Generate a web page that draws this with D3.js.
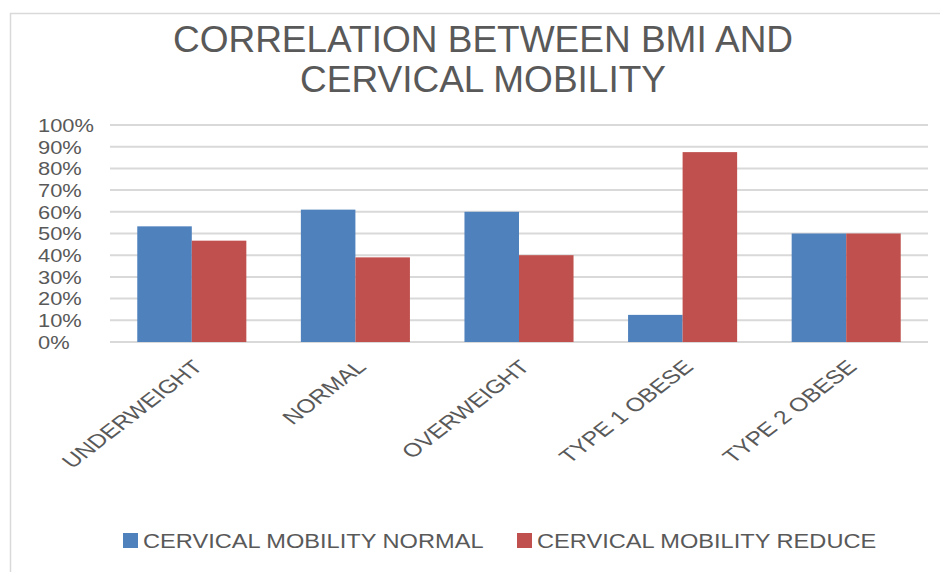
<!DOCTYPE html>
<html>
<head>
<meta charset="utf-8">
<script src="https://cdn.jsdelivr.net/npm/d3@7/dist/d3.min.js"></script>
<style>
  html, body { margin: 0; padding: 0; background: #fff; }
  svg { display: block; font-family: "Liberation Sans", Arial, sans-serif; }
</style>
</head>
<body>
<svg id="chart" width="940" height="572"></svg>
<script>
// BMI groups and the share of subjects in each cervical mobility group
const categories = ["UNDERWEIGHT", "NORMAL", "OVERWEIGHT", "TYPE 1 OBESE", "TYPE 2 OBESE"];
const seriesNames = ["CERVICAL MOBILITY NORMAL", "CERVICAL MOBILITY REDUCE"];
const mobilityNormal = [0.533, 0.61, 0.60, 0.125, 0.50];
const mobilityReduce = [0.467, 0.39, 0.40, 0.875, 0.50];
const yTicks = [0, 0.1, 0.2, 0.3, 0.4, 0.5, 0.6, 0.7, 0.8, 0.9, 1.0];
const titleLines = ["CORRELATION BETWEEN BMI AND", "CERVICAL MOBILITY"];
const colors = ["#4F81BD", "#C0504D"];

const series = [mobilityNormal, mobilityReduce];
const svg = d3.select("#chart");
const textColor = "#595959";

// widen glyphs of a text selection by a factor (wide axis/legend lettering)
function widen(sel, k) {
  sel.each(function () {
    const w = this.getComputedTextLength();
    d3.select(this).attr("textLength", w * k).attr("lengthAdjust", "spacingAndGlyphs");
  });
}

// chart area frame
svg.append("rect")
  .attr("x", 10.5).attr("y", 13.5)
  .attr("width", 960).attr("height", 600)
  .attr("fill", "none").attr("stroke", "#d9d9d9").attr("stroke-width", 1.5);

// title
svg.append("text")
  .attr("x", 483).attr("y", 52)
  .attr("text-anchor", "middle")
  .attr("fill", textColor)
  .attr("font-size", 37)
  .selectAll("tspan").data(titleLines).join("tspan")
  .attr("x", 483)
  .attr("dy", (d, i) => i === 0 ? 0 : 40)
  .text(d => d);

const plot = { left: 110, right: 928, top: 125, bottom: 342 };

const x = d3.scaleBand()
  .domain(categories)
  .range([plot.left, plot.right])
  .paddingInner(1 / 3)
  .paddingOuter(1 / 6);

const xSub = d3.scaleBand()
  .domain(d3.range(series.length))
  .range([0, x.bandwidth()]);

const y = d3.scaleLinear().domain([0, 1]).range([plot.bottom, plot.top]);

// horizontal gridlines
svg.append("g")
  .selectAll("line").data(yTicks).join("line")
  .attr("x1", plot.left).attr("x2", plot.right)
  .attr("y1", d => y(d)).attr("y2", d => y(d))
  .attr("stroke", "#d9d9d9").attr("stroke-width", 2);

// y tick labels (left aligned)
svg.append("g")
  .selectAll("text").data(yTicks).join("text")
  .attr("x", 38)
  .attr("y", d => y(d))
  .attr("dy", "0.36em")
  .attr("fill", textColor)
  .attr("font-size", 19)
  .text(d => d3.format(".0%")(d))
  .call(widen, 1.15);

// bars
const groups = svg.append("g")
  .selectAll("g").data(categories).join("g")
  .attr("transform", d => `translate(${x(d)},0)`);

groups.selectAll("rect")
  .data((d, i) => series.map((s, k) => ({ k, v: s[i] })))
  .join("rect")
  .attr("x", d => xSub(d.k))
  .attr("width", xSub.bandwidth())
  .attr("y", d => y(d.v))
  .attr("height", d => y(0) - y(d.v))
  .attr("fill", d => colors[d.k]);

// category labels, rotated and stretched horizontally
svg.append("g")
  .selectAll("text").data(categories).join("text")
  .attr("transform", d => `translate(${x(d) + x.bandwidth() / 2 + 12},${plot.bottom + 26}) scale(1.3,1) rotate(-45)`)
  .attr("text-anchor", "end")
  .attr("fill", textColor)
  .attr("font-size", 19)
  .text(d => d);

// legend
const legendItems = [
  { name: seriesNames[0], color: colors[0], x: 123 },
  { name: seriesNames[1], color: colors[1], x: 517 }
];
const legend = svg.append("g")
  .selectAll("g").data(legendItems).join("g")
  .attr("transform", d => `translate(${d.x},533)`);
legend.append("rect")
  .attr("width", 15).attr("height", 15)
  .attr("fill", d => d.color);
legend.append("text")
  .attr("x", 20).attr("y", 8)
  .attr("dy", "0.36em")
  .attr("fill", textColor)
  .attr("font-size", 20)
  .text(d => d.name)
  .call(widen, 1.18);
</script>
</body>
</html>
